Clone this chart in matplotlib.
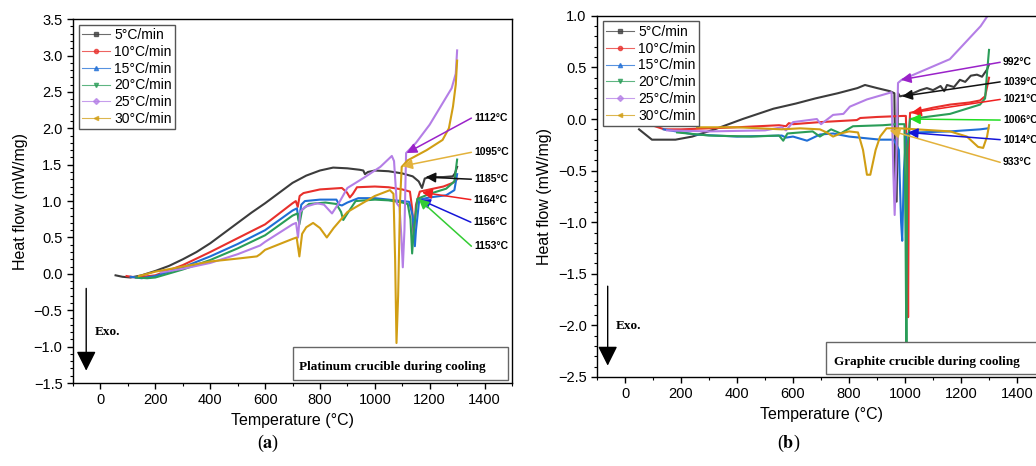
import matplotlib
matplotlib.use('Agg')
import matplotlib.pyplot as plt
from matplotlib.lines import Line2D
from matplotlib.patches import Rectangle
from matplotlib.ticker import MultipleLocator

plt.rcParams['font.family'] = ['Liberation Sans', 'DejaVu Sans']
plt.rcParams['mathtext.fontset'] = 'stix'

rates = ['5°C/min', '10°C/min', '15°C/min', '20°C/min', '25°C/min', '30°C/min']
colors = ['#3c3c3c', '#e8302c', '#1f6ed6', '#2a9d58', '#b47ee6', '#d19e14']
markers = ['s', 'o', '^', 'v', 'D', '<']

# (a) platinum crucible, temperature (°C) / heat flow (mW/mg)
pt_5_t = [55, 80, 110, 150, 200, 250, 300, 350, 400, 450, 500, 550, 600, 650, 700, 750, 800, 848, 900, 945,
          958, 964, 975, 1000, 1050, 1100, 1138, 1160, 1172, 1182, 1200, 1250, 1284, 1292, 1300]
pt_5_hf = [-0.02, -0.04, -0.05, -0.02, 0.04, 0.11, 0.2, 0.3, 0.42, 0.56, 0.7, 0.84, 0.97, 1.11, 1.25, 1.35, 1.42, 1.46, 1.45, 1.43,
           1.42, 1.37, 1.40, 1.42, 1.41, 1.38, 1.34, 1.27, 1.18, 1.31, 1.33, 1.33, 1.34, 1.38, 1.47]
pt_10_t = [95, 130, 200, 300, 400, 500, 600, 700, 712, 719, 726, 740, 800, 880, 898, 909, 920, 935, 1000, 1050, 1100,
           1128, 1136, 1142, 1150, 1164, 1200, 1250, 1284, 1300]
pt_10_hf = [-0.03, -0.05, -0.02, 0.12, 0.3, 0.49, 0.68, 0.97, 1.0, 0.92, 1.07, 1.11, 1.16, 1.18, 1.12, 1.05, 1.1, 1.19, 1.2, 1.19, 1.16,
            1.13, 0.9, 0.5, 0.95, 1.13, 1.16, 1.2, 1.25, 1.3]
pt_15_t = [110, 150, 200, 300, 400, 500, 600, 700, 716, 723, 732, 745, 800, 860, 870, 880, 900, 940, 1000, 1050, 1100,
           1125, 1138, 1146, 1150, 1162, 1200, 1260, 1290, 1300]
pt_15_hf = [-0.04, -0.06, -0.03, 0.09, 0.24, 0.41, 0.6, 0.87, 0.9, 0.73, 0.95, 1.0, 1.02, 1.02, 0.95, 0.94, 0.98, 1.04, 1.04, 1.02, 1.0,
            0.99, 0.8, 0.38, 0.6, 1.02, 1.05, 1.08, 1.15, 1.37]
pt_20_t = [130, 170, 200, 300, 400, 500, 600, 700, 718, 725, 735, 760, 820, 860, 877, 885, 895, 930, 1000, 1050, 1100,
           1120, 1130, 1136, 1142, 1155, 1200, 1260, 1290, 1300]
pt_20_hf = [-0.05, -0.06, -0.05, 0.06, 0.19, 0.35, 0.53, 0.8, 0.83, 0.68, 0.88, 0.96, 0.98, 0.96, 0.85, 0.74, 0.8, 1.0, 1.02, 1.01, 0.98,
            0.96, 0.75, 0.28, 0.6, 1.03, 1.1, 1.17, 1.27, 1.57]
pt_25_t = [220, 300, 400, 500, 582, 600, 700, 713, 720, 728, 745, 790, 815, 844, 870, 900, 960, 1020, 1062, 1070, 1080,
           1090, 1097, 1102, 1108, 1114, 1150, 1200, 1240, 1280, 1295, 1300]
pt_25_hf = [0.02, 0.07, 0.15, 0.27, 0.39, 0.44, 0.68, 0.7, 0.5, 0.85, 0.92, 0.97, 0.95, 0.83, 0.98, 1.18, 1.32, 1.47, 1.62, 1.55, 0.97,
            0.92, 0.5, 0.09, 0.6, 1.66, 1.8, 2.05, 2.3, 2.55, 2.75, 3.07]
pt_30_t = [140, 200, 300, 400, 500, 570, 582, 600, 700, 715, 725, 735, 750, 775, 800, 825, 850, 900, 1000, 1055, 1068,
           1074, 1079, 1085, 1092, 1098, 1120, 1189, 1247, 1270, 1285, 1295, 1300]
pt_30_hf = [-0.03, 0.03, 0.1, 0.17, 0.21, 0.24, 0.27, 0.33, 0.48, 0.5, 0.24, 0.55, 0.64, 0.7, 0.63, 0.5, 0.63, 0.85, 1.07, 1.15, 1.1,
            0.2, -0.95, -0.3, 1.0, 1.47, 1.56, 1.7, 1.84, 2.0, 2.3, 2.6, 2.93]

# (b) graphite crucible
gr_5_t = [50, 96, 180, 240, 320, 420, 530, 610, 680, 760, 830, 857, 900, 946, 962, 966, 970, 975, 982, 1000, 1029, 1054,
          1078, 1100, 1127, 1140, 1150, 1175, 1196, 1215, 1235, 1257, 1275, 1293, 1300]
gr_5_hf = [-0.1, -0.2, -0.2, -0.17, -0.1, 0.0, 0.1, 0.15, 0.2, 0.25, 0.3, 0.33, 0.3, 0.27, 0.25, -0.8, -0.8, 0.25, 0.22, 0.23, 0.25, 0.28,
           0.3, 0.28, 0.32, 0.27, 0.33, 0.31, 0.38, 0.36, 0.42, 0.43, 0.41, 0.48, 0.53]
gr_10_t = [96, 140, 200, 400, 550, 575, 585, 600, 696, 828, 840, 900, 993, 1003, 1008, 1011, 1014, 1018, 1100, 1161,
           1230, 1268, 1286, 1300]
gr_10_hf = [-0.06, -0.1, -0.1, -0.08, -0.06, -0.07, -0.04, -0.05, -0.03, -0.01, 0.01, 0.02, 0.03, 0.03, -0.5, -1.92, -0.2, 0.06,
            0.11, 0.14, 0.16, 0.18, 0.22, 0.4]
gr_15_t = [138, 250, 400, 560, 575, 600, 650, 696, 743, 800, 911, 960, 978, 986, 990, 996, 1004, 1018, 1043, 1161, 1268,
           1297]
gr_15_hf = [-0.1, -0.15, -0.17, -0.16, -0.18, -0.17, -0.21, -0.15, -0.14, -0.17, -0.2, -0.2, -0.3, -1.0, -1.18, -0.5, -0.15,
            -0.14, -0.13, -0.12, -0.1, -0.09]
gr_20_t = [186, 300, 450, 550, 565, 580, 670, 696, 736, 770, 814, 921, 970, 998, 1002, 1005, 1008, 1018, 1161, 1268,
           1286, 1293, 1300]
gr_20_hf = [-0.13, -0.16, -0.17, -0.16, -0.21, -0.14, -0.12, -0.17, -0.1, -0.14, -0.07, -0.06, -0.05, -0.05, -1.2, -2.3, -0.3,
            0.0, 0.05, 0.14, 0.2, 0.45, 0.67]
gr_25_t = [150, 300, 500, 560, 575, 600, 685, 700, 743, 780, 803, 864, 940, 952, 958, 963, 968, 975, 988, 1160, 1270,
           1295, 1302]
gr_25_hf = [-0.11, -0.12, -0.11, -0.08, -0.11, -0.03, 0.0, -0.05, 0.04, 0.05, 0.12, 0.19, 0.25, 0.26, -0.5, -0.93, -0.5, 0.35,
            0.38, 0.58, 0.9, 1.0, 1.05]
gr_30_t = [257, 400, 560, 625, 696, 720, 743, 770, 800, 832, 850, 864, 876, 895, 911, 934, 982, 1161, 1221, 1261, 1279,
           1293, 1300]
gr_30_hf = [-0.08, -0.08, -0.1, -0.09, -0.1, -0.13, -0.17, -0.14, -0.12, -0.13, -0.3, -0.54, -0.54, -0.3, -0.17, -0.09, -0.09,
            -0.12, -0.17, -0.27, -0.28, -0.17, -0.06]

pt_series = [(pt_5_t, pt_5_hf), (pt_10_t, pt_10_hf), (pt_15_t, pt_15_hf),
             (pt_20_t, pt_20_hf), (pt_25_t, pt_25_hf), (pt_30_t, pt_30_hf)]
gr_series = [(gr_5_t, gr_5_hf), (gr_10_t, gr_10_hf), (gr_15_t, gr_15_hf),
             (gr_20_t, gr_20_hf), (gr_25_t, gr_25_hf), (gr_30_t, gr_30_hf)]

# peak labels: text, text position, arrow tip, colour
pt_labels = ['1112°C', '1095°C', '1185°C', '1164°C', '1156°C', '1153°C']
pt_label_xy = [(1362, 2.14), (1362, 1.67), (1362, 1.30), (1360, 1.02), (1360, 0.71), (1362, 0.38)]
pt_tip_xy = [(1116, 1.66), (1100, 1.48), (1185, 1.33), (1172, 1.12), (1165, 1.02), (1160, 1.03)]
pt_label_col = ['#9a22c9', '#e3b23c', '#111111', '#f02020', '#1515d8', '#33cc33']

gr_labels = ['992°C', '1039°C', '1021°C', '1006°C', '1014°C', '933°C']
gr_label_xy = [(1350, 0.55), (1350, 0.36), (1350, 0.19), (1350, -0.01), (1350, -0.2), (1350, -0.42)]
gr_tip_xy = [(985, 0.38), (990, 0.22), (1022, 0.06), (1018, 0.0), (1010, -0.13), (945, -0.11)]
gr_label_col = ['#9a22c9', '#111111', '#f02020', '#22dd22', '#1515d8', '#e3b23c']


def draw_panel(ax, series, labels, label_xy, tip_xy, label_col, ylim, box_text, box_rect, exo_x, exo_y, exo_text_xy):
    for (t, hf), c in zip(series, colors):
        ax.plot(t, hf, color=c, lw=1.5)
    ax.set_xlim(-100, 1500)
    ax.set_ylim(*ylim)
    ax.xaxis.set_major_locator(MultipleLocator(200))
    ax.xaxis.set_minor_locator(MultipleLocator(100))
    ax.yaxis.set_major_locator(MultipleLocator(0.5))
    ax.yaxis.set_minor_locator(MultipleLocator(0.1))
    ax.tick_params(which='major', labelsize=10.5, length=4, width=1)
    ax.tick_params(which='minor', length=2.5, width=0.8)
    for s in ax.spines.values():
        s.set_linewidth(1)
    ax.set_xlabel('Temperature (°C)', fontsize=11.5)
    ax.set_ylabel('Heat flow (mW/mg)', fontsize=11.5)

    handles = [Line2D([], [], color=c, lw=0.8, alpha=0.75, marker=m, ms=3) for c, m in zip(colors, markers)]
    ax.legend(handles, rates, loc='upper left', fontsize=10, handlelength=2.0, handletextpad=0.3,
              labelspacing=0.2, borderpad=0.25, borderaxespad=0.4, fancybox=False, edgecolor='#555555',
              framealpha=1)

    for lab, xy, tip, c in zip(labels, label_xy, tip_xy, label_col):
        ax.annotate('', xy=tip, xytext=(xy[0] - 10, xy[1]),
                    arrowprops=dict(arrowstyle='-|>,head_length=0.5,head_width=0.25', color=c, lw=1.1,
                                    mutation_scale=12, shrinkA=0, shrinkB=0))
        ax.text(xy[0], xy[1], lab, fontsize=7.5, fontweight='bold', va='center', ha='left')

    x0, y0, x1, y1 = box_rect
    ax.add_patch(Rectangle((x0, y0), x1 - x0, y1 - y0, facecolor='white', edgecolor='#666666', lw=1, zorder=5))
    ax.text(x0 + 0.03 * (x1 - x0), y0 + 0.38 * (y1 - y0), box_text, family='Liberation Serif', fontweight='bold',
            fontsize=9.5, va='center', ha='left', zorder=6)

    ax.annotate('', xy=(exo_x, exo_y[1]), xytext=(exo_x, exo_y[0]),
                arrowprops=dict(arrowstyle='-|>,head_length=0.6,head_width=0.3', color='black', lw=1,
                                mutation_scale=20, shrinkA=0, shrinkB=0))
    ax.text(exo_text_xy[0], exo_text_xy[1], 'Exo.', family='Liberation Serif', fontweight='bold', fontsize=9.5,
            va='center', ha='left')


fig = plt.figure(figsize=(10.36, 4.66), dpi=100)
ax_a = fig.add_axes([0.0705, 0.178, 0.4237, 0.781])
ax_b = fig.add_axes([0.5763, 0.191, 0.4324, 0.775])

draw_panel(ax_a, pt_series, pt_labels, pt_label_xy, pt_tip_xy, pt_label_col, (-1.5, 3.5),
           'Platinum crucible during cooling', (700, -1.46, 1485, -1.0), -52, (-0.2, -1.33), (-22, -0.8))
draw_panel(ax_b, gr_series, gr_labels, gr_label_xy, gr_tip_xy, gr_label_col, (-2.5, 1.0),
           'Graphite crucible during cooling', (719, -2.47, 1600, -2.16), -62, (-1.62, -2.39), (-35, -2.01))

fig.text(0.2586, 0.025, r'($\mathbf{a}$)', family='Liberation Serif', fontsize=13, ha='center', va='bottom')
fig.text(0.7616, 0.025, r'($\mathbf{b}$)', family='Liberation Serif', fontsize=13, ha='center', va='bottom')

fig.savefig('out.png', dpi=100)
